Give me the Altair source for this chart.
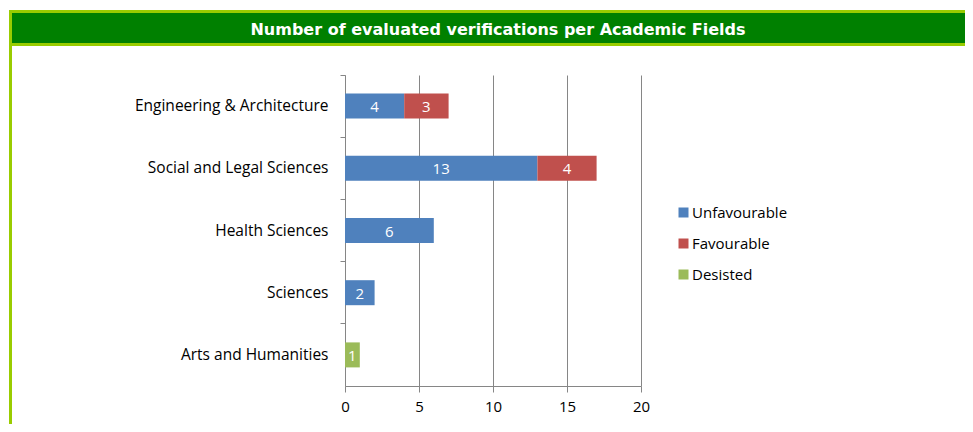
import altair as alt
import pandas as pd

title_text = "Number of evaluated verifications per Academic Fields"
categories = ["Engineering & Architecture", "Social and Legal Sciences",
              "Health Sciences", "Sciences", "Arts and Humanities"]
series = ["Unfavourable", "Favourable", "Desisted"]
unfavourable = [4, 13, 6, 2, 0]
favourable = [3, 4, 0, 0, 0]
desisted = [0, 0, 0, 0, 1]
colors = ["#4F81BD", "#C0504D", "#9BBB59"]
x_ticks = [0, 5, 10, 15, 20]

rows = []
for s_i, (s, vals) in enumerate(zip(series, [unfavourable, favourable, desisted])):
    for c, v in zip(categories, vals):
        if v > 0:
            rows.append({"category": c, "status": s, "value": v, "order": s_i})
df = pd.DataFrame(rows)

FONT = "Open Sans"
GRAY = "#868686"

base = alt.Chart(df).transform_stack(
    stack="value", groupby=["category"], as_=["v1", "v2"],
    sort=[alt.SortField("order", order="ascending")]
).transform_calculate(mid="(datum.v1 + datum.v2) / 2")

y_enc = alt.Y("category:N", sort=categories,
              scale=alt.Scale(paddingInner=0, paddingOuter=0),
              axis=alt.Axis(title=None, bandPosition=0))
x_scale = alt.Scale(domain=[0, 20], nice=False)

bars = base.mark_bar(size=25).encode(
    x=alt.X("v1:Q", scale=x_scale, axis=alt.Axis(title=None, values=x_ticks)),
    x2="v2:Q",
    y=y_enc,
    color=alt.Color("status:N", scale=alt.Scale(domain=series, range=colors),
                    legend=alt.Legend(orient="none", legendX=331, legendY=130,
                                      title=None, symbolType="square",
                                      symbolSize=100, symbolStrokeWidth=0,
                                      labelFont=FONT, labelFontSize=15,
                                      labelColor="#000000", rowPadding=15,
                                      labelOffset=1, padding=0)),
    order=alt.Order("order:Q"),
)

labels = base.mark_text(color="white", font=FONT, fontSize=15, dy=1).encode(
    x=alt.X("mid:Q", scale=x_scale, axis=alt.Axis(title=None, values=x_ticks)),
    y=y_enc,
    text="value:Q",
)

dummy = pd.DataFrame({"d": [0]})
outer = alt.Chart(dummy).mark_rect(color="#99CC00").encode(
    x=alt.value(-336), x2=alt.value(625), y=alt.value(-65), y2=alt.value(-29))
inner = alt.Chart(dummy).mark_rect(color="#008000").encode(
    x=alt.value(-333), x2=alt.value(625), y=alt.value(-62), y2=alt.value(-32))
left_line = alt.Chart(dummy).mark_rect(color="#99CC00").encode(
    x=alt.value(-336), x2=alt.value(-333), y=alt.value(-29), y2=alt.value(349))
title = alt.Chart(pd.DataFrame({"t": [title_text]})).mark_text(
    color="white", font="DejaVu Sans", fontWeight="bold", fontSize=16,
    align="center", baseline="middle").encode(
    x=alt.value(153), y=alt.value(-45), text="t:N")

chart = alt.layer(outer, inner, left_line, title, bars, labels).properties(
    width=296, height=311,
    autosize=alt.AutoSizeParams(type="none"),
    padding={"left": 337, "top": 67, "right": 324, "bottom": 38},
    background="white",
).configure_view(strokeWidth=0).configure_axisX(
    domainColor=GRAY, tickColor=GRAY, tickSize=6, grid=True, gridColor=GRAY,
    gridOpacity=1, labelFont=FONT, labelFontSize=15, labelColor="#000000",
    labelPadding=7, labelFlush=False,
).configure_axisY(
    domainColor=GRAY, tickColor=GRAY, tickSize=5, grid=False,
    labelFont=FONT, labelFontSize=15.5, labelColor="#000000", labelPadding=12,
    labelLimit=320,
)

chart.save("out.html", embed_options={"renderer": "svg", "actions": False})
